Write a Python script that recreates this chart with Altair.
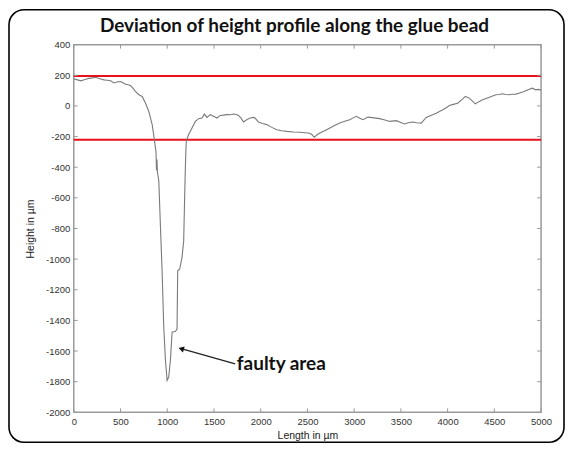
import altair as alt
import pandas as pd

length_um = [0,40,75,120,160,200,235,280,323,360,394,430,470,501,530,554,580,608,635,661,697,732,768,803,839,857,874,880,885,890,895,910,928,945,963,981,999,1016,1034,1052,1070,1088,1105,1112,1133,1158,1176,1187,1194,1199,1204,1228,1265,1301,1336,1372,1397,1425,1461,1496,1532,1567,1600,1638,1675,1709,1740,1762,1790,1816,1851,1887,1922,1940,1976,2020,2065,2120,2172,2225,2279,2350,2420,2470,2509,2545,2573,2600,2633,2690,2740,2790,2846,2900,2953,2990,3024,3060,3095,3148,3210,3273,3330,3380,3451,3500,3539,3580,3628,3670,3717,3771,3820,3877,3948,3985,4019,4060,4108,4150,4190,4232,4296,4335,4374,4440,4516,4550,4587,4620,4658,4690,4730,4770,4818,4860,4907,4942,4970,5000]
height_um = [177,170,164,172,180,183,187,178,170,168,164,150,158,159,150,142,138,133,115,94,73,62,18,-36,-122,-198,-274,-300,-420,-350,-430,-491,-795,-1076,-1445,-1662,-1792,-1770,-1662,-1477,-1474,-1471,-1456,-1076,-1066,-990,-881,-578,-404,-300,-231,-188,-144,-101,-83,-79,-53,-75,-57,-68,-79,-62,-60,-57,-58,-53,-56,-62,-80,-105,-90,-79,-75,-79,-105,-115,-122,-140,-155,-162,-166,-170,-172,-175,-177,-185,-205,-190,-177,-160,-144,-128,-112,-100,-90,-78,-68,-80,-90,-73,-78,-83,-92,-101,-96,-108,-118,-110,-105,-110,-112,-75,-62,-47,-25,-12,3,10,18,40,62,51,14,28,40,55,73,75,79,75,73,76,77,85,94,105,116,105,108,103]

limits = [195, -220]
x_ticks = [0,500,1000,1500,2000,2500,3000,3500,4000,4500,5000]
y_ticks = [400,200,0,-200,-400,-600,-800,-1000,-1200,-1400,-1600,-1800,-2000]

title_text = ["Deviation of height profile along the glue bead"]
arrow_x = [1727, 1159]
arrow_y = [-1683, -1586]
label_text = ["faulty area"]
label_x = [1745]
label_y = [-1683]

W, H = 469, 369
GRAY = "#9a9a9a"
AX_FONT = "Liberation Sans"

df = pd.DataFrame({"x": length_um, "y": height_um})
xs = alt.Scale(domain=[0, 5000], nice=False)
ys = alt.Scale(domain=[-2000, 400], nice=False)

axis_common = dict(ticks=False, domain=False, grid=False, labelPadding=4, labelFlush=False,
                   labelOverlap=False, zindex=1, labelExpr="datum.value + ''",
                   labelFont=AX_FONT, labelFontSize=9.5, labelColor="#333",
                   titleFont=AX_FONT, titleFontSize=10.5, titleColor="#222", titleFontWeight="normal")
x_axis = alt.Axis(values=x_ticks, titlePadding=5, **axis_common)
y_axis = alt.Axis(values=y_ticks, titlePadding=10, **axis_common)


def X(field):
    return alt.X(field, scale=xs, axis=x_axis, title="Length in µm")


def Y(field):
    return alt.Y(field, scale=ys, axis=y_axis, title="Height in µm")


card = alt.Chart(pd.DataFrame({"a": [0]})).mark_rect(
    fillOpacity=0, stroke="black", strokeWidth=1.6, cornerRadius=15
).encode(x=alt.value(-65), x2=alt.value(W + 23), y=alt.value(-35), y2=alt.value(H + 30))

title = alt.Chart(pd.DataFrame({"t": title_text})).mark_text(
    align="center", baseline="alphabetic", font="Lato", fontWeight="bold", fontSize=19, color="#111"
).encode(x=alt.value(W / 2 - 13), y=alt.value(-13), text="t:N")

line = alt.Chart(df).mark_line(color="#7a7a7a", strokeWidth=1.1).encode(x=X("x:Q"), y=Y("y:Q"))

red = alt.Chart(pd.DataFrame({"v": limits})).mark_rule(color="#e8101a", strokeWidth=2).encode(y=Y("v:Q"))

xt = pd.DataFrame({"t": x_ticks})
yt = pd.DataFrame({"t": y_ticks})
tb = alt.Chart(xt).mark_rule(color=GRAY).encode(x=X("t:Q"), y=alt.value(H), y2=alt.value(H - 4))
tt = alt.Chart(xt).mark_rule(color=GRAY).encode(x=X("t:Q"), y=alt.value(0), y2=alt.value(4))
tl = alt.Chart(yt).mark_rule(color=GRAY).encode(y=Y("t:Q"), x=alt.value(0), x2=alt.value(4))
tr = alt.Chart(yt).mark_rule(color=GRAY).encode(y=Y("t:Q"), x=alt.value(W), x2=alt.value(W - 4))

adf = pd.DataFrame({"x": arrow_x, "y": arrow_y, "o": [0, 1]})
arrow = alt.Chart(adf).mark_line(color="#222", strokeWidth=1.3).encode(
    x=X("x:Q"), y=Y("y:Q"), order="o:Q")
head = alt.Chart(adf.iloc[[1]]).mark_point(shape="triangle", filled=True, color="#111", size=40, angle=286, opacity=1).encode(
    x=X("x:Q"), y=Y("y:Q"))

label = alt.Chart(pd.DataFrame({"x": label_x, "y": label_y, "t": label_text})).mark_text(
    align="left", baseline="middle", font="Lato", fontWeight="bold", fontSize=19, color="#111"
).encode(x=X("x:Q"), y=Y("y:Q"), text="t:N")

chart = alt.layer(card, title, red, line, tb, tt, tl, tr, arrow, head, label).properties(
    width=W, height=H, padding=0, background="white",
).configure_view(stroke=GRAY, strokeWidth=1.5)

chart.save("out.html", embed_options={"renderer": "svg", "actions": False})
